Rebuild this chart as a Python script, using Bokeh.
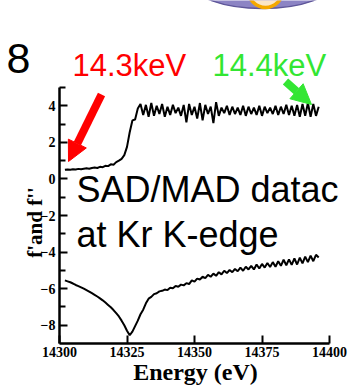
import math
from bokeh.plotting import figure
from bokeh.models import (Label, Arrow, NormalHead, FixedTicker, Range1d,
                          LinearAxis)
from bokeh.embed import file_html
from bokeh.resources import INLINE

# ---------------- data ----------------
energy = list(range(14302, 14397))

f_double_prime = [
    0.50, 0.52, 0.50, 0.53, 0.52, 0.55, 0.53, 0.56, 0.58, 0.56,
    0.60, 0.62, 0.60, 0.66, 0.64, 0.72, 0.70, 0.80, 0.78, 0.92,
    1.00, 1.10, 1.30, 1.75, 2.55, 3.20, 3.25, 3.85, 4.10, 3.50,
    4.05, 3.40, 4.15, 3.45, 4.00, 3.55, 4.10, 3.40, 3.95, 3.50,
    4.05, 3.60, 3.90, 3.45, 4.05, 3.10, 4.10, 3.50, 3.95, 3.30,
    4.15, 3.20, 4.05, 3.55, 3.95, 3.05, 4.20, 3.45, 3.90, 3.60,
    4.00, 3.50, 3.95, 3.55, 3.90, 3.50, 4.00, 3.45, 3.95, 3.55,
    3.90, 3.50, 4.00, 3.45, 3.95, 3.60, 3.90, 3.55, 4.00, 3.50,
    3.95, 3.55, 4.05, 3.50, 4.00, 3.45, 4.05, 3.40, 4.10, 3.45,
    4.15, 3.40, 4.10, 3.45, 3.95,
]

f_prime = [
    -5.55, -5.60, -5.65, -5.72, -5.80, -5.86, -5.93, -6.00, -6.08, -6.16,
    -6.25, -6.34, -6.43, -6.53, -6.64, -6.76, -6.89, -7.02, -7.17, -7.34,
    -7.52, -7.75, -8.00, -8.30, -8.55, -8.35, -8.05, -7.75, -7.40, -7.15,
    -6.80, -6.55, -6.45, -6.30, -6.25, -6.15, -6.12, -6.05, -6.08, -5.95,
    -5.98, -5.85, -5.90, -5.78, -5.82, -5.70, -5.75, -5.55, -5.62, -5.45,
    -5.50, -5.35, -5.42, -5.25, -5.35, -5.18, -5.30, -5.10, -5.22, -5.02,
    -5.15, -4.98, -5.10, -4.92, -5.05, -4.85, -5.02, -4.80, -4.95, -4.75,
    -4.95, -4.68, -4.90, -4.65, -4.85, -4.60, -4.82, -4.55, -4.80, -4.50,
    -4.75, -4.42, -4.72, -4.40, -4.70, -4.35, -4.68, -4.30, -4.62, -4.25,
    -4.55, -4.20, -4.50, -4.15, -4.30,
]

x_ticks = [14300, 14325, 14350, 14375, 14400]
y_ticks = [-8, -6, -4, -2, 0, 2, 4]
y_minor_ticks = [-7, -5, -3, -1, 1, 3, 5]

# ---------------- layout geometry ----------------
W, H = 351, 385            # canvas, placed at page (0, 0)
X0, X1 = 14300, 14400      # axis extent
Y0, Y1 = -9, 5
AX_L, AX_R = 59, 329       # canvas px of X0 / X1
AX_T, AX_B = 87, 343       # canvas px of Y1 / Y0

sx = (X1 - X0) / (AX_R - AX_L)
sy = (Y1 - Y0) / (AX_B - AX_T)


def X(px):
    return X0 + (px - AX_L) * sx


def Y(py):
    return Y1 - (py - AX_T) * sy


p = figure(width=W, height=H, output_backend="svg", toolbar_location=None,
           x_range=Range1d(X(0), X(W)), y_range=Range1d(Y(H), Y(0)),
           x_axis_location=None, y_axis_location=None,
           min_border=0, min_border_left=0, min_border_right=0,
           min_border_top=0, min_border_bottom=0)
p.outline_line_color = None
p.grid.visible = False
p.background_fill_color = "white"
p.border_fill_color = "white"

# slide decoration at the top (bottom of a purple disc with an orange ring)
p.ellipse(x=[X(262)], y=[Y(-18)], width=[142 * sx], height=[52 * sy],
          fill_color="#8c84c4", line_color="#5e5699", line_width=1.5)
p.ellipse(x=[X(265)], y=[Y(-10)], width=[34 * sx], height=[34 * sy],
          fill_color="#fbe6c8", line_color="#f5a800", line_width=3.5)

p.line(energy, f_double_prime, line_color="black", line_width=2)
p.line(energy, f_prime, line_color="black", line_width=2)

xaxis = LinearAxis(fixed_location=Y0, bounds=(X0, X1),
                   ticker=FixedTicker(ticks=x_ticks))
yaxis = LinearAxis(fixed_location=X0, bounds=(Y0, Y1),
                   ticker=FixedTicker(ticks=y_ticks, minor_ticks=y_minor_ticks))
for ax in (xaxis, yaxis):
    ax.axis_line_width = 2.5
    ax.axis_line_color = "black"
    ax.major_tick_in = 8
    ax.major_tick_out = 0
    ax.major_tick_line_width = 2
    ax.major_label_text_font = "Liberation Serif"
    ax.major_label_text_font_style = "bold"
    ax.major_label_text_font_size = "14px"
    ax.major_label_text_color = "black"
xaxis.minor_tick_line_color = None
xaxis.major_label_standoff = 3
yaxis.minor_tick_in = 6
yaxis.minor_tick_out = 0
yaxis.minor_tick_line_width = 2
yaxis.major_label_standoff = 4
p.add_layout(xaxis, "below")
p.add_layout(yaxis, "left")

serif = "Liberation Serif"
sans = "Liberation Sans"
BASE_FIX = 0.37   # empirical baseline correction (fraction of font size)


def label(px, py, text, font, size, color="black", bold=False,
          align="left", angle=0.0):
    if angle == 0.0:
        py = py - BASE_FIX * size
    else:
        px = px - BASE_FIX * size
    p.add_layout(Label(x=X(px), y=Y(py), text=text, text_font=font,
                       text_font_size=f"{size}px", text_color=color,
                       text_font_style="bold" if bold else "normal",
                       text_align=align, text_baseline="alphabetic",
                       angle=angle))


# axis titles
label(195, 380, "Energy (eV)", serif, 24, bold=True, align="center")
label(42, 222, "f'and f''", serif, 21, bold=True, align="center",
      angle=math.pi / 2)

# slide texts
label(6, 74, "8", sans, 43)
label(72, 76, "14.3keV", sans, 31, color="#ff0000")
label(212, 76, "14.4keV", sans, 31, color="#33e633")
label(76, 202, "SAD/MAD datac", sans, 36)
label(76, 247, "at Kr K-edge", sans, 36)

# arrows
p.add_layout(Arrow(x_start=X(101), y_start=Y(94), x_end=X(68), y_end=Y(161),
                   line_color="#ff0000", line_width=8,
                   end=NormalHead(size=20, fill_color="#ff0000",
                                  line_color="#ff0000", line_width=1)))
p.add_layout(Arrow(x_start=X(285), y_start=Y(81), x_end=X(311), y_end=Y(104),
                   line_color="#33e633", line_width=8,
                   end=NormalHead(size=20, fill_color="#33e633",
                                  line_color="#33e633", line_width=1)))

open("out.html", "w").write(file_html(p, INLINE))
